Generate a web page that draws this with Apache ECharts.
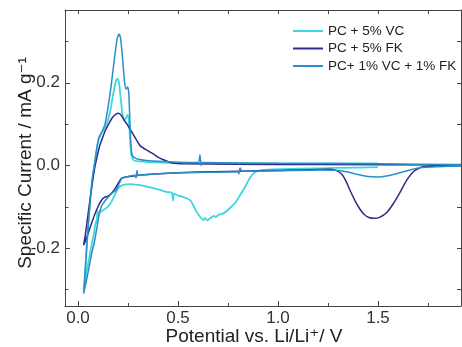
<!DOCTYPE html>
<html>
<head>
<meta charset="utf-8">
<script src="https://cdn.jsdelivr.net/npm/echarts@6/dist/echarts.min.js"></script>
<style>
html,body{margin:0;padding:0;background:#fff;}
#chart{width:462px;height:347px;}
</style>
</head>
<body>
<div id="chart"></div>
<script>
// Series names
const seriesNames = ['PC + 5% VC', 'PC + 5% FK', 'PC+ 1% VC + 1% FK'];

// Tick values
const xMajorTicks = [0, 0.5, 1.0, 1.5];
const xMinorTicks = [0.25, 0.75, 1.25, 1.75];
const xAllTicks = [0, 0.25, 0.5, 0.75, 1.0, 1.25, 1.5, 1.75];
const yMajorTicks = [-0.2, 0, 0.2];
const yMinorTicks = [-0.3, -0.1, 0.1, 0.3];
const yAllTicks = [-0.3, -0.2, -0.1, 0, 0.1, 0.2, 0.3];

// PC + 5% VC : [potential V, specific current]
const vcCurve = [
  [1.5,-0.004],[1.3,-0.006],[1.1,-0.008],[0.95,-0.01],[0.91,-0.012],[0.88,-0.018],[0.86,-0.03],
  [0.835,-0.052],[0.81,-0.072],[0.79,-0.088],[0.76,-0.103],[0.727,-0.116],[0.7,-0.12],[0.69,-0.125],
  [0.68,-0.122],[0.66,-0.128],[0.645,-0.133],[0.635,-0.127],[0.627,-0.132],[0.61,-0.124],[0.59,-0.11],
  [0.575,-0.095],[0.56,-0.084],[0.53,-0.077],[0.5,-0.073],[0.48,-0.068],[0.475,-0.085],[0.47,-0.066],
  [0.44,-0.064],[0.4,-0.058],[0.35,-0.052],[0.3,-0.047],[0.26,-0.045],[0.22,-0.048],[0.2,-0.056],
  [0.185,-0.07],[0.165,-0.09],[0.14,-0.104],[0.12,-0.11],[0.105,-0.115],[0.1,-0.125],[0.097,-0.108],
  [0.094,-0.14],[0.09,-0.135],[0.08,-0.165],[0.065,-0.2],[0.05,-0.24],[0.035,-0.28],[0.028,-0.3],
  [0.034,-0.27],[0.043,-0.2],[0.053,-0.13],[0.063,-0.075],[0.073,-0.03],[0.085,0.01],[0.095,0.042],
  [0.105,0.065],[0.12,0.08],[0.14,0.097],[0.16,0.128],[0.175,0.17],[0.19,0.205],[0.197,0.21],
  [0.205,0.2],[0.213,0.165],[0.222,0.125],[0.232,0.11],[0.24,0.115],[0.248,0.122],[0.254,0.11],
  [0.26,0.065],[0.267,0.025],[0.28,0.012],[0.35,0.008],[0.5,0.006],[1.0,0.005],[1.5,0.005]
];

// PC + 5% FK
const fkCurve = [
  [1.915,-0.001],[1.8,-0.002],[1.72,-0.004],[1.68,-0.014],[1.643,-0.036],[1.61,-0.065],[1.577,-0.092],
  [1.545,-0.113],[1.51,-0.125],[1.48,-0.128],[1.455,-0.126],[1.43,-0.118],[1.41,-0.106],[1.385,-0.085],
  [1.36,-0.06],[1.34,-0.038],[1.32,-0.022],[1.29,-0.012],[1.25,-0.009],[1.1,-0.011],[0.9,-0.013],
  [0.6,-0.016],[0.4,-0.02],[0.3,-0.024],[0.22,-0.03],[0.205,-0.04],[0.187,-0.055],[0.17,-0.066],
  [0.15,-0.074],[0.13,-0.078],[0.115,-0.086],[0.1,-0.1],[0.085,-0.117],[0.07,-0.137],[0.05,-0.165],
  [0.035,-0.185],[0.028,-0.193],
  [0.036,-0.17],[0.047,-0.13],[0.058,-0.09],[0.07,-0.048],[0.082,-0.01],[0.095,0.02],[0.11,0.05],
  [0.125,0.07],[0.137,0.085],[0.155,0.102],[0.175,0.118],[0.2,0.126],[0.215,0.122],[0.23,0.11],
  [0.245,0.1],[0.27,0.08],[0.293,0.061],[0.31,0.048],[0.34,0.038],[0.376,0.028],[0.4,0.02],
  [0.43,0.013],[0.47,0.006],[0.52,0.004],[0.8,0.003],[1.2,0.002],[1.915,0.001]
];

// PC+ 1% VC + 1% FK
const mixCurve = [
  [1.915,-0.001],[1.8,-0.003],[1.72,-0.005],[1.66,-0.011],[1.6,-0.019],[1.55,-0.025],[1.5,-0.028],
  [1.45,-0.027],[1.4,-0.022],[1.35,-0.016],[1.3,-0.012],[1.2,-0.011],[1.0,-0.013],[0.82,-0.014],
  [0.81,-0.006],[0.805,-0.02],[0.8,-0.015],[0.6,-0.017],[0.45,-0.019],[0.35,-0.022],[0.3,-0.024],
  [0.295,-0.012],[0.29,-0.03],[0.285,-0.024],[0.25,-0.027],[0.22,-0.031],[0.205,-0.045],[0.19,-0.06],
  [0.17,-0.067],[0.145,-0.08],[0.12,-0.096],[0.105,-0.12],[0.095,-0.15],[0.08,-0.19],[0.07,-0.209],
  [0.05,-0.26],[0.035,-0.295],[0.028,-0.31],
  [0.033,-0.28],[0.042,-0.21],[0.052,-0.14],[0.062,-0.08],[0.072,-0.03],[0.085,0.01],[0.095,0.045],
  [0.105,0.068],[0.12,0.082],[0.135,0.1],[0.15,0.14],[0.165,0.19],[0.18,0.25],[0.195,0.305],
  [0.205,0.318],[0.212,0.31],[0.222,0.265],[0.232,0.205],[0.24,0.185],[0.248,0.19],[0.254,0.175],
  [0.26,0.1],[0.266,0.04],[0.275,0.022],[0.3,0.015],[0.4,0.01],[0.6,0.007],[0.61,0.025],[0.615,0.0],
  [0.62,0.007],[0.8,0.006],[1.0,0.005],[1.5,0.004],[1.915,0.002]
];

const colors = ['#3fd6e0', '#2c2b8c', '#2a8fc6'];
const FONT = '"Liberation Sans", Arial, "DejaVu Sans", sans-serif';
const AX = '#444';

const chart = echarts.init(document.getElementById('chart'), null, {renderer: 'canvas'});

const XMIN = -0.065, XMAX = 1.915, YMIN = -0.34, YMAX = 0.376;

function baseX(extra) {
  return Object.assign({
    type: 'value', min: XMIN, max: XMAX, splitLine: {show: false},
    axisLine: {show: false, onZero: false},
    axisLabel: {show: false}, axisTick: {show: false}
  }, extra);
}
function baseY(extra) {
  return Object.assign({
    type: 'value', min: YMIN, max: YMAX, splitLine: {show: false},
    axisLine: {show: false, onZero: false},
    axisLabel: {show: false}, axisTick: {show: false}
  }, extra);
}

const option = {
  animation: false,
  backgroundColor: '#fff',
  grid: {left: 65, right: 1, top: 10, bottom: 41, containLabel: false, outerBoundsMode: 'none'},
  legend: {
    orient: 'vertical', left: 293, top: 24, padding: 0,
    icon: 'rect', itemWidth: 30, itemHeight: 2, itemGap: 3.5,
    textStyle: {fontSize: 13.5, color: '#222', fontFamily: FONT},
    data: seriesNames
  },
  xAxis: [
    baseX({
      position: 'bottom',
      axisLine: {show: true, onZero: false, lineStyle: {color: AX, width: 1.2}},
      axisTick: {show: true, inside: true, length: 5, customValues: xMajorTicks, lineStyle: {color: AX}},
      axisLabel: {show: true, customValues: xMajorTicks, margin: 4, fontSize: 17, color: '#333', fontFamily: FONT,
        formatter: v => v.toFixed(1)},
      name: 'Potential vs. Li/Li\u207A/ V', nameLocation: 'middle', nameGap: 21, nameMoveOverlap: false,
      nameTextStyle: {fontSize: 19, color: '#222', fontFamily: FONT, padding: [0, 18, 0, 0]}
    }),
    baseX({
      position: 'bottom',
      axisTick: {show: true, inside: true, length: 3, customValues: xMinorTicks, lineStyle: {color: AX}}
    }),
    baseX({
      position: 'top',
      axisLine: {show: true, onZero: false, lineStyle: {color: AX, width: 1}},
      axisTick: {show: true, inside: true, length: 4, customValues: xAllTicks, lineStyle: {color: AX}}
    })
  ],
  yAxis: [
    baseY({
      position: 'left',
      axisLine: {show: true, onZero: false, lineStyle: {color: AX, width: 1}},
      axisTick: {show: true, inside: true, length: 5, customValues: yMajorTicks, lineStyle: {color: AX}},
      axisLabel: {show: true, customValues: yMajorTicks, margin: 5, fontSize: 17, color: '#333', fontFamily: FONT,
        formatter: v => v.toFixed(1)},
      name: 'Specific Current / mA g\u207B\u00B9', nameLocation: 'middle', nameGap: 30, nameMoveOverlap: false,
      nameTextStyle: {fontSize: 19, color: '#222', fontFamily: FONT, padding: [0, 10, 0, 0]}
    }),
    baseY({
      position: 'left',
      axisTick: {show: true, inside: true, length: 3.5, customValues: yMinorTicks, lineStyle: {color: AX}}
    }),
    baseY({
      position: 'right',
      axisLine: {show: true, onZero: false, lineStyle: {color: AX, width: 1}},
      axisTick: {show: true, inside: true, length: 4, customValues: yAllTicks, lineStyle: {color: AX}}
    })
  ],
  series: [
    {name: seriesNames[0], type: 'line', data: vcCurve, symbol: 'none', smooth: 0.2,
      lineStyle: {color: colors[0], width: 1.8}, itemStyle: {color: colors[0]}, z: 2},
    {name: seriesNames[1], type: 'line', data: fkCurve, symbol: 'none', smooth: 0.2,
      lineStyle: {color: colors[1], width: 1.5}, itemStyle: {color: colors[1]}, z: 3},
    {name: seriesNames[2], type: 'line', data: mixCurve, symbol: 'none', smooth: 0.2,
      lineStyle: {color: colors[2], width: 1.5}, itemStyle: {color: colors[2]}, z: 4}
  ]
};
chart.setOption(option);
</script>
</body>
</html>
